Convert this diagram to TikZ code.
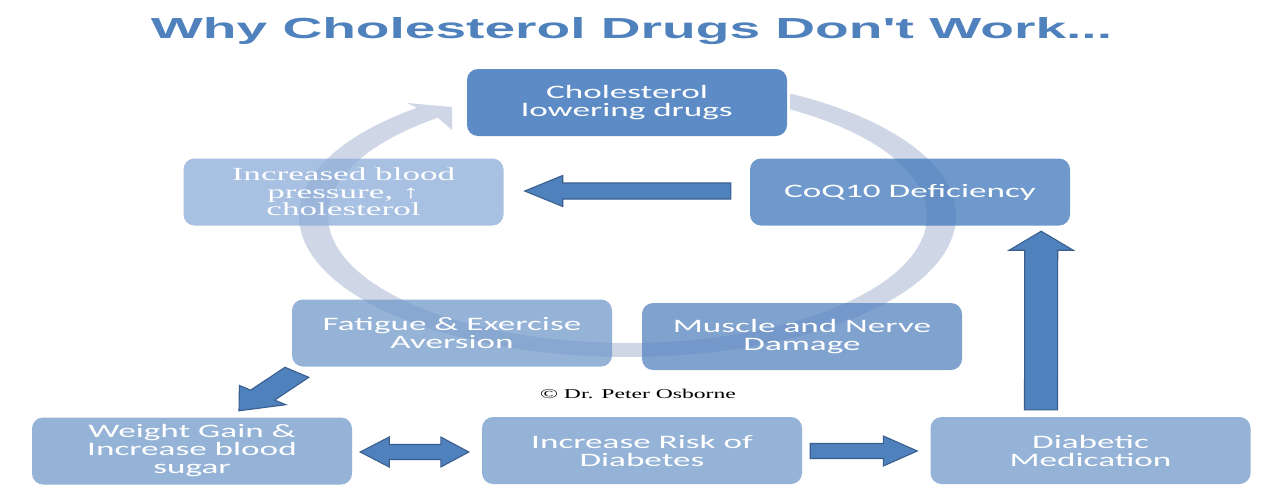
\documentclass[tikz,border=0pt]{standalone}
\usepackage{fontspec}
\usetikzlibrary{calc}
\newfontfamily\titlefont{Liberation Sans}[FakeStretch=1.9]
\newfontfamily\boxfont{Carlito}[FakeStretch=1.85]
\newfontfamily\boxserif{Liberation Serif}[FakeStretch=1.9]
\newfontfamily\copyfont{Liberation Serif}[FakeStretch=1.75]
\definecolor{titleblue}{HTML}{4F81BD}
\definecolor{ringc}{HTML}{CFD7E7}
\definecolor{ctop}{HTML}{5D8BC5}
\definecolor{ccoq}{HTML}{4077BB}
\definecolor{cinc}{HTML}{8BABD7}
\definecolor{cfat}{HTML}{7299CA}
\definecolor{cmus}{HTML}{5684C0}
\definecolor{cbot}{HTML}{95B3D7}
\definecolor{arrfill}{HTML}{4F81BD}
\definecolor{arrline}{HTML}{3A5F8F}
\tikzset{
  box/.style={rounded corners=11pt, minimum width=320pt, minimum height=67pt,
    inner sep=0pt, align=center, text=white,
    font={\boxfont\fontsize{19}{18}\selectfont}},
  seethru/.style={fill opacity=0.75, text opacity=1},
  blockarrow/.style={fill=arrfill, draw=arrline, line width=1.1pt, line join=miter}
}
\begin{document}
\begin{tikzpicture}[x=1pt,y=-1pt]
\fill[white] (0,0) rectangle (1280,499);
\useasboundingbox (0,0) rectangle (1280,499);

% circular arrow behind the boxes
\fill[ringc] plot[domain=0:290.4,samples=140] ({627.5+328.5*cos(60.3-\x)},{216-141*sin(60.3-\x)})
  -- (407,103) -- (452,107) -- (452,130)
  -- plot[domain=-230.7:57.1,samples=140] ({627.5+299.5*cos(\x)},{216-127*sin(\x)}) -- cycle;

% title
\node[font={\titlefont\bfseries\fontsize{29}{34}\selectfont}, text=titleblue, anchor=base, inner sep=0pt]
  (title) at (631.5,38) {Why Cholesterol Drugs Don't Work...};

% boxes
\node[box, fill=ctop] (cld) at (627,102.5) {Cholesterol\\lowering drugs};
\node[box, seethru, fill=ccoq] (coq) at (910,192) {CoQ10 Deficiency};
\node[box, seethru, fill=cinc, font={\boxserif\fontsize{18.5}{17.5}\selectfont}] (inc) at (343.5,192)
  {Increased blood\\pressure, ↑\\cholesterol};
\node[box, seethru, fill=cfat] (fat) at (452,333) {Fatigue \& Exercise\\Aversion};
\node[box, seethru, fill=cmus] (mus) at (802,336.5) {Muscle and Nerve\\Damage};
\node[box, fill=cbot] (wg) at (192,451) {Weight Gain \&\\Increase blood\\sugar};
\node[box, fill=cbot] (ris) at (642,450.5) {Increase Risk of\\Diabetes};
\node[box, fill=cbot] (dia) at (1090.5,450.5) {Diabetic\\Medication};

% copyright
\node[font={\copyfont\fontsize{13.5}{16}\selectfont}, text=black] (copy) at (638,393.5) {© Dr. Peter Osborne};

% block arrows
% CoQ10 -> Increased blood pressure
\draw[blockarrow] ($(coq.west)+(-19,-9)$) -- ($(inc.east)+(59,-9)$) -- ($(inc.east)+(59,-16.5)$)
  -- ($(inc.east)+(21,-1)$) -- ($(inc.east)+(59,14.5)$) -- ($(inc.east)+(59,7)$)
  -- ($(coq.west)+(-19,7)$) -- cycle;
% Diabetic Medication -> CoQ10
\draw[blockarrow] ($(dia.north)+(-66,-7)$) -- ($(coq.south east)+(-45.5,24.5)$) -- ($(coq.south east)+(-61,24.5)$)
  -- ($(coq.south east)+(-29,5.5)$) -- ($(coq.south east)+(3,24.5)$) -- ($(coq.south east)+(-12.5,24.5)$)
  -- ($(dia.north)+(-33,-7)$) -- cycle;
% Fatigue -> Weight gain
\draw[blockarrow] ($(fat.south west)+(-6.8,0.6)$) -- ($(wg.north)+(58.6,-27.2)$) -- ($(wg.north)+(47.4,-31.8)$)
  -- ($(wg.north)+(47,-6.5)$) -- ($(wg.north)+(93.8,-12.6)$) -- ($(wg.north)+(82.6,-17.2)$)
  -- ($(fat.south west)+(17,10.6)$) -- cycle;
% Weight gain <-> Risk of diabetes
\draw[blockarrow] ($(wg.east)+(8,1)$) -- ($(wg.east)+(37,-14)$) -- ($(wg.east)+(37,-6.5)$)
  -- ($(ris.west)+(-41,-6)$) -- ($(ris.west)+(-41,-13.5)$) -- ($(ris.west)+(-13,1.5)$)
  -- ($(ris.west)+(-41,16.5)$) -- ($(ris.west)+(-41,9)$) -- ($(wg.east)+(37,8.5)$)
  -- ($(wg.east)+(37,16)$) -- cycle;
% Risk of diabetes -> Diabetic medication
\draw[blockarrow] ($(ris.east)+(8,-7)$) -- ($(dia.west)+(-47,-7)$) -- ($(dia.west)+(-47,-14.5)$)
  -- ($(dia.west)+(-13,0.5)$) -- ($(dia.west)+(-47,15.5)$) -- ($(dia.west)+(-47,8)$)
  -- ($(ris.east)+(8,8)$) -- cycle;
\end{tikzpicture}
\end{document}
